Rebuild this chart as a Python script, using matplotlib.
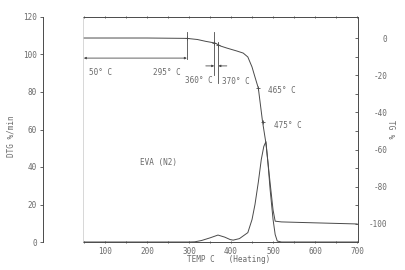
import numpy as np
import matplotlib
matplotlib.use("Agg")
import matplotlib.pyplot as plt

plt.rcParams['font.family'] = ['DejaVu Sans Mono']
plt.rcParams['font.size'] = 5.5
plt.rcParams['axes.unicode_minus'] = False

# --- datos ---
temp_tg = [50, 100, 200, 295, 320, 340, 362, 375, 390, 414, 429, 440, 450, 457,
           465, 475, 483, 493, 500, 505, 520, 600, 700]
tg = [0.0, 0.0, 0.0, -0.2, -0.8, -1.8, -2.7, -4.3, -5.4, -7.0, -8.1, -10.2, -15.6, -21.0,
      -27.0, -45.0, -56.5, -78.0, -92.5, -98.5, -98.9, -99.4, -100.0]

temp_dtg = [50, 100, 200, 300, 314, 330, 350, 369, 385, 398, 405, 420, 440, 450,
            457, 465, 472, 478, 483, 488, 493, 500, 505, 510, 520, 600, 700]
dtg = [0.0, 0.0, 0.0, 0.0, 0.1, 0.8, 2.2, 3.7, 2.6, 1.3, 1.0, 1.8, 5.0, 12.0,
       20.0, 32.0, 44.0, 51.0, 53.5, 42.0, 28.0, 12.0, 4.0, 0.5, 0.0, 0.0, 0.0]

marcas = [295, 360, 370, 465, 475]

x_ticks = [100, 200, 300, 400, 500, 600, 700]
dtg_ticks = [0, 20, 40, 60, 80, 100, 120]
tg_ticks = [0, -20, -40, -60, -80, -100]

linea = '#4a4a4a'
texto = '#6a6a6a'

fig = plt.figure(figsize=(4.05, 2.7), dpi=100)
fig.patch.set_facecolor('white')

# eje principal (DTG)
ax = fig.add_axes([83/405, 1-242/270, 275/405, 225/270])
ax.set_xlim(48, 702)
ax.set_ylim(0, 120)
ax.spines['left'].set_position(('outward', 29))
ax.spines['right'].set_visible(False)
for s in ['left', 'bottom', 'top']:
    ax.spines[s].set_color(linea)
    ax.spines[s].set_linewidth(0.7)
ax.set_yticks(dtg_ticks)
ax.set_xticks(x_ticks)
ax.set_xticks(np.arange(50, 701, 50), minor=True)
ax.tick_params(axis='y', colors=linea, labelcolor=texto, length=2, width=0.6, pad=2)
ax.tick_params(axis='x', which='both', colors=linea, labelcolor=texto, length=1.5,
               width=0.6, direction='inout', top=True, pad=3)
ax.set_ylabel('DTG %/min', color=texto, labelpad=6)
ax.yaxis.set_label_coords(-0.245, 0.47)
ax.set_xlabel('TEMP C   (Heating)', color=texto, labelpad=0)
ax.xaxis.set_label_coords(0.53, -0.06)

ax.plot(temp_dtg, dtg, color=linea, lw=0.7)
ax.text(183, 42.5, 'EVA (N2)', color=texto, ha='left', va='center')

# eje secundario (TG)
ax2 = ax.twinx()
ax2.set_ylim(-109.7, 11.3)
ax2.spines['left'].set_color('#c8c8c8')
ax2.spines['left'].set_linewidth(0.5)
ax2.spines['right'].set_color(linea)
ax2.spines['right'].set_linewidth(0.7)
ax2.spines['top'].set_visible(False)
ax2.spines['bottom'].set_visible(False)
ax2.set_yticks(tg_ticks)
ax2.set_yticks(np.arange(-100, 1, 10), minor=True)
ax2.tick_params(axis='y', which='both', colors=linea, labelcolor=texto, length=2,
                width=0.6, direction='in')
ax2.tick_params(axis='y', which='major', pad=21)
for lab in ax2.get_yticklabels():
    lab.set_horizontalalignment('right')
ax2.set_ylabel('TG %', color=texto, rotation=270, labelpad=6)

ax2.plot(temp_tg, tg, color=linea, lw=0.7)
ax2.plot(marcas, np.interp(marcas, temp_tg, tg), ls='none', marker='+',
         ms=3, mew=0.6, color=linea)

# anotaciones de temperaturas
ax2.plot([295, 295], [3.2, -11.3], color=linea, lw=0.6)
ax2.plot([360, 360], [3.2, -19.9], color=linea, lw=0.6)
ax2.plot([370, 370], [-2.2, -24.2], color=linea, lw=0.6)
ax2.annotate('', xy=(50, -10.8), xytext=(295, -10.8),
             arrowprops=dict(arrowstyle='<|-|>', color=linea, lw=0.6,
                             mutation_scale=3, shrinkA=0, shrinkB=0))
ax2.annotate('', xy=(360, -15), xytext=(340, -15),
             arrowprops=dict(arrowstyle='-|>', color=linea, lw=0.6,
                             mutation_scale=3, shrinkA=0, shrinkB=0))
ax2.annotate('', xy=(370, -15), xytext=(390, -15),
             arrowprops=dict(arrowstyle='-|>', color=linea, lw=0.6,
                             mutation_scale=3, shrinkA=0, shrinkB=0))

ax2.text(63, -18.5, '50° C', color=texto, ha='left', va='center')
ax2.text(280, -18.5, '295° C', color=texto, ha='right', va='center')
ax2.text(324, -23, '360° C', color=texto, ha='center', va='center')
ax2.text(412, -23.5, '370° C', color=texto, ha='center', va='center')
ax2.text(488, -28, '465° C', color=texto, ha='left', va='center')
ax2.text(502, -47.3, '475° C', color=texto, ha='left', va='center')

fig.savefig('out.png', dpi=100, facecolor='white')
